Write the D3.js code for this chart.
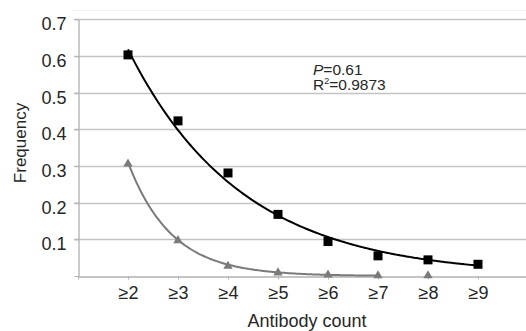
<!DOCTYPE html>
<html>
<head>
<meta charset="utf-8">
<script src="https://cdn.jsdelivr.net/npm/d3@7"></script>
<style>
  body { margin: 0; background: #fff; }
  text { font-family: "Liberation Sans", Arial, sans-serif; fill: #262626; }
</style>
</head>
<body>
<div id="chart"></div>
<script>
// categories (x = antibody count threshold)
const categories = [2, 3, 4, 5, 6, 7, 8, 9];
const categoryLabels = ["≥2", "≥3", "≥4", "≥5", "≥6", "≥7", "≥8", "≥9"];

// black squares
const squareValues = [0.603, 0.423, 0.281, 0.168, 0.094, 0.055, 0.044, 0.032];
// grey triangles (no point at ≥9)
const triangleValues = [0.306, 0.097, 0.027, 0.009, 0.003, 0.001, 0.001];

// exponential trendlines, y = a * exp(-b * (x - 2)), [a, b, xFrom, xTo]
const squareTrend = [0.618, 0.44, 2, 9];
const triangleTrend = [0.31, 1.15, 2, 7];

const yTicks = [0.1, 0.2, 0.3, 0.4, 0.5, 0.6, 0.7];
const yTickLabels = ["0.1", "0.2", "0.3", "0.4", "0.5", "0.6", "0.7"];

const W = 526, H = 331;
const mLeft = 78, mRight = 526, mTop = 19.3, mBottom = 276;

const svg = d3.select("#chart").append("svg")
    .attr("width", W)
    .attr("height", H);

const x = d3.scaleLinear().domain([1, 9.96]).range([mLeft, mRight]);
const y = d3.scaleLinear().domain([0, 0.7]).range([mBottom, mTop]);

// faint plot border at top
svg.append("line")
    .attr("x1", 72).attr("x2", W)
    .attr("y1", 10.5).attr("y2", 10.5)
    .attr("stroke", "#f0f0f0");

// gridlines
svg.append("g")
    .selectAll("line")
    .data(yTicks)
    .join("line")
    .attr("x1", mLeft - 4).attr("x2", mRight)
    .attr("y1", d => Math.round(y(d)) + 0.5)
    .attr("y2", d => Math.round(y(d)) + 0.5)
    .attr("stroke", "#c4c4c4")
    .attr("stroke-width", 1.3);

// y axis
const yAxis = svg.append("g")
    .attr("transform", `translate(${mLeft + 0.5},0)`)
    .call(d3.axisLeft(y).tickValues([0].concat(yTicks)).tickSize(4).tickSizeOuter(0)
        .tickFormat((d, i) => i === 0 ? "" : yTickLabels[i - 1]));
yAxis.select(".domain").attr("stroke", "#b0b0b0").attr("stroke-width", 1.3);
yAxis.selectAll(".tick line").attr("stroke", "#b0b0b0");
yAxis.selectAll(".tick text")
    .attr("x", -12)
    .attr("dy", 10.5)
    .style("font-size", "18px")
    .style("font-family", "'Liberation Sans', Arial, sans-serif")
    .attr("fill", "#262626");

// x axis
const xAxis = svg.append("g")
    .attr("transform", `translate(0,${mBottom + 0.5})`)
    .call(d3.axisBottom(x).tickValues([1].concat(categories)).tickSize(3).tickSizeOuter(0)
        .tickFormat((d, i) => i === 0 ? "" : categoryLabels[i - 1]));
xAxis.select(".domain").attr("stroke", "#b0b0b0").attr("stroke-width", 1.3);
xAxis.selectAll(".tick line").attr("stroke", "#b0b0b0");
xAxis.selectAll(".tick text")
    .attr("y", 0)
    .attr("dy", 22.5)
    .style("font-size", "18px")
    .style("font-family", "'Liberation Sans', Arial, sans-serif")
    .attr("fill", "#262626");

// trendlines
const trendPoints = (t) => d3.range(t[2], t[3] + 0.001, 0.05)
    .map(v => [v, t[0] * Math.exp(-t[1] * (v - 2))]);
const line = d3.line().x(d => x(d[0])).y(d => y(d[1])).curve(d3.curveMonotoneX);

svg.append("path")
    .datum(trendPoints(triangleTrend))
    .attr("d", line)
    .attr("fill", "none")
    .attr("stroke", "#7a7a7a")
    .attr("stroke-width", 2);

svg.append("path")
    .datum(trendPoints(squareTrend))
    .attr("d", line)
    .attr("fill", "none")
    .attr("stroke", "#000")
    .attr("stroke-width", 2);

// triangle markers
svg.append("g")
    .selectAll("path")
    .data(triangleValues)
    .join("path")
    .attr("d", d3.symbol(d3.symbolTriangle, 38))
    .attr("transform", (d, i) => `translate(${x(categories[i])},${y(d)})`)
    .attr("fill", "#7a7a7a");

// square markers
svg.append("g")
    .selectAll("rect")
    .data(squareValues)
    .join("rect")
    .attr("x", (d, i) => x(categories[i]) - 4.5)
    .attr("y", d => y(d) - 4.5)
    .attr("width", 9)
    .attr("height", 9)
    .attr("fill", "#000");

// annotation
const note = svg.append("text")
    .attr("x", 313)
    .attr("y", 75)
    .style("font-size", "15.5px");
note.append("tspan").style("font-style", "italic").text("P");
note.append("tspan").text("=0.61");

const note2 = svg.append("text")
    .attr("x", 313)
    .attr("y", 90)
    .style("font-size", "15.5px");
note2.append("tspan").text("R");
note2.append("tspan").attr("dy", -6).style("font-size", "9px").text("2");
note2.append("tspan").attr("dy", 6).text("=0.9873");

// axis titles
svg.append("text")
    .attr("x", 307)
    .attr("y", 327)
    .attr("text-anchor", "middle")
    .style("font-size", "18px")
    .text("Antibody count");

svg.append("text")
    .attr("transform", "translate(26,143) rotate(-90)")
    .attr("text-anchor", "middle")
    .style("font-size", "17px")
    .text("Frequency");
</script>
</body>
</html>
